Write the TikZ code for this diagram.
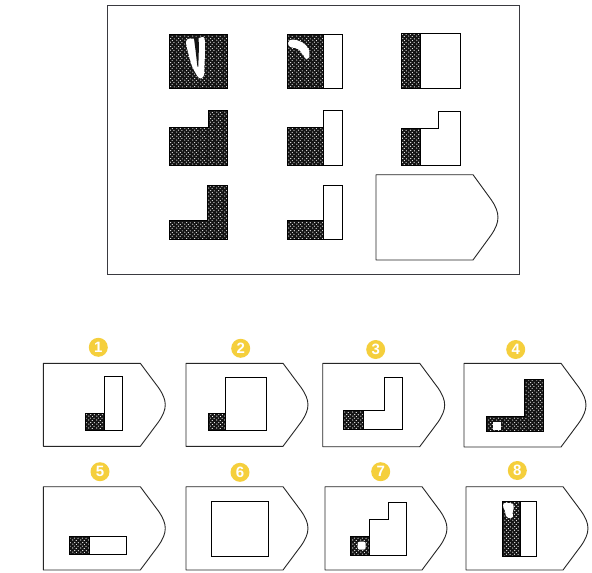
\documentclass[tikz,border=0pt]{standalone}
\usepackage{fontspec}
\setsansfont{Liberation Sans}
\usetikzlibrary{patterns.meta}
\tikzdeclarepattern{
  name=stipple,
  type=uncolored,
  bounding box={(0pt,0pt) and (8pt,8pt)},
  tile size={(8pt,8pt)},
  code={
    \fill (0.8pt,1.0pt) circle (0.65pt);
    \fill (4.6pt,0.6pt) circle (0.65pt);
    \fill (2.7pt,3.1pt) circle (0.65pt);
    \fill (6.6pt,2.9pt) circle (0.65pt);
    \fill (0.9pt,5.3pt) circle (0.65pt);
    \fill (4.8pt,4.9pt) circle (0.65pt);
    \fill (3.0pt,7.1pt) circle (0.65pt);
    \fill (6.9pt,6.8pt) circle (0.65pt);
  }
}
\definecolor{lblyellow}{HTML}{F5CF3C}
\definecolor{framegray}{HTML}{3A3A40}
\tikzset{
  outl/.style={draw=black,line width=0.9pt,line join=miter},
  darkfill/.style={fill=black!92},
  stip/.style={pattern={stipple},pattern color=white},
  whitebox/.style={draw=black,line width=0.9pt,fill=white},
  tagline/.style={draw=black!85,line width=0.9pt,line join=round},
  lbl/.style={circle,fill=lblyellow,inner sep=0pt,minimum size=19pt,text=white,font=\sffamily\bfseries\fontsize{15}{15}\selectfont},
}
% dark stippled region: #1 = path
\newcommand{\darkreg}[1]{\fill[darkfill] #1; \fill[stip] #1; \draw[outl] #1;}
% tag shape: x0, y0, H
\newcommand{\tagat}[3]{%
  \draw[tagline] (#1,#2) -- (#1+97,#2) -- (#1+115,#2+0.29*#3)
    .. controls (#1+124.3,#2+0.29*#3+13.4) and (#1+124.3,#2+0.71*#3-13.4) .. (#1+115,#2+0.71*#3)
    -- (#1+97,#2+#3) -- (#1,#2+#3) -- cycle;}
\begin{document}
\begin{tikzpicture}[x=1pt,y=-1pt]
\useasboundingbox (0,0) rectangle (592,573);
\fill[white] (0,0) rectangle (592,573);
% frame
\draw[framegray,line width=1pt] (107.7,5) rectangle (519.3,274);
% ---- row 1
\darkreg{(169,34) rectangle (227,88)}
\fill[white] plot[smooth cycle,tension=0.5] coordinates {(186,42) (188,39) (192,38.5) (196,39) (199,38) (202,37) (204.5,38.5) (205,50) (204.5,65) (204,75) (201,78.5) (198,77) (195,72) (192,66) (189,56) (187,48)};
\fill[black!92] (193.8,37) -- (198.6,36.5) -- (198.9,48) -- (198.3,66.5) -- (197.4,66.5) -- (195.5,50) -- cycle;
\darkreg{(287,34) rectangle (323.5,88)}
\draw[whitebox] (323.5,34) rectangle (342.5,88);
\draw[white,line width=8pt,line cap=round] (292,43.5) .. controls (298,44) and (303,46) .. (305.5,52);
\fill[white] (302.5,51) -- (309,50) -- (309.5,57) -- (306.5,59.5) -- (304,57) -- cycle;
\darkreg{(401,33.5) rectangle (420.5,88.5)}
\draw[whitebox] (420.5,33.5) rectangle (460.5,88.5);
% ---- row 2
\darkreg{(169,165.5) -- (169,127.5) -- (208.5,127.5) -- (208.5,110) -- (227.5,110) -- (227.5,165.5) -- cycle}
\darkreg{(287,127.5) rectangle (323.5,165.5)}
\draw[whitebox] (323.5,110.5) rectangle (342.5,165.5);
\darkreg{(401,128.5) rectangle (420.5,165.5)}
\draw[whitebox] (420.5,165.5) -- (420.5,128.5) -- (438.5,128.5) -- (438.5,111.5) -- (460.5,111.5) -- (460.5,165.5) -- cycle;
% ---- row 3
\darkreg{(169,239) -- (169,220.5) -- (207.5,220.5) -- (207.5,185.5) -- (227.5,185.5) -- (227.5,239) -- cycle}
\darkreg{(287,220.5) rectangle (323.5,239)}
\draw[whitebox] (323.5,185.5) rectangle (342.5,239);
\tagat{376}{174.7}{85.3}
% ---- options row 1
\tagat{43.3}{363.3}{83}
\node[lbl] (l1) at (98.3,347.3) {1};
\draw[whitebox] (104,376.7) rectangle (122.7,430.7);
\darkreg{(85,413.3) rectangle (104,430.7)}
\tagat{186}{363.3}{83}
\node[lbl] (l2) at (240.7,348.3) {2};
\draw[whitebox] (225.7,377.3) rectangle (266.7,430.7);
\darkreg{(208.3,413.3) rectangle (225.7,430.7)}
\tagat{322.7}{363.3}{83.4}
\node[lbl] (l3) at (375.7,349.5) {3};
\draw[whitebox] (363.3,429) -- (363.3,410.7) -- (384,410.7) -- (384,377.7) -- (402.3,377.7) -- (402.3,429) -- cycle;
\darkreg{(343.3,410.7) rectangle (363.3,429)}
\tagat{464}{363.3}{83.7}
\node[lbl] (l4) at (515.7,349.5) {4};
\darkreg{(486.7,431.7) -- (486.7,416) -- (524,416) -- (524,379.3) -- (543.3,379.3) -- (543.3,431.7) -- cycle}
\fill[white] (492.7,421.7) rectangle (500.7,430);
% ---- options row 2
\tagat{43.3}{486.7}{83.3}
\node[lbl] (l5) at (100,471.7) {5};
\darkreg{(69.3,536) rectangle (89.3,554.3)}
\draw[whitebox] (89.3,536) rectangle (126,554.3);
\tagat{186}{486.7}{83.3}
\node[lbl] (l6) at (240,472.3) {6};
\draw[whitebox] (211.7,501) rectangle (268.3,556);
\tagat{325}{486.7}{83.3}
\node[lbl] (l7) at (380.7,471.7) {7};
\darkreg{(350.7,536.7) rectangle (369.3,555)}
\fill[white,rounded corners=2pt] (357.7,541.7) rectangle (365.7,549.7);
\draw[whitebox] (369.3,555) -- (369.3,519) -- (388.3,519) -- (388.3,502.3) -- (406.7,502.3) -- (406.7,555) -- cycle;
\tagat{466}{486.7}{83.3}
\node[lbl] (l8) at (517.3,470.5) {8};
\darkreg{(502.3,501.7) rectangle (520,556.7)}
\draw[whitebox] (520,501.7) rectangle (536.7,556.7);
\fill[white] plot[smooth cycle,tension=0.6] coordinates {(503.5,503.5) (508,503) (513,504) (513.5,509) (512.5,513) (513,517) (508.5,518) (506,516) (505,511) (503.5,508)};
\end{tikzpicture}
\end{document}
